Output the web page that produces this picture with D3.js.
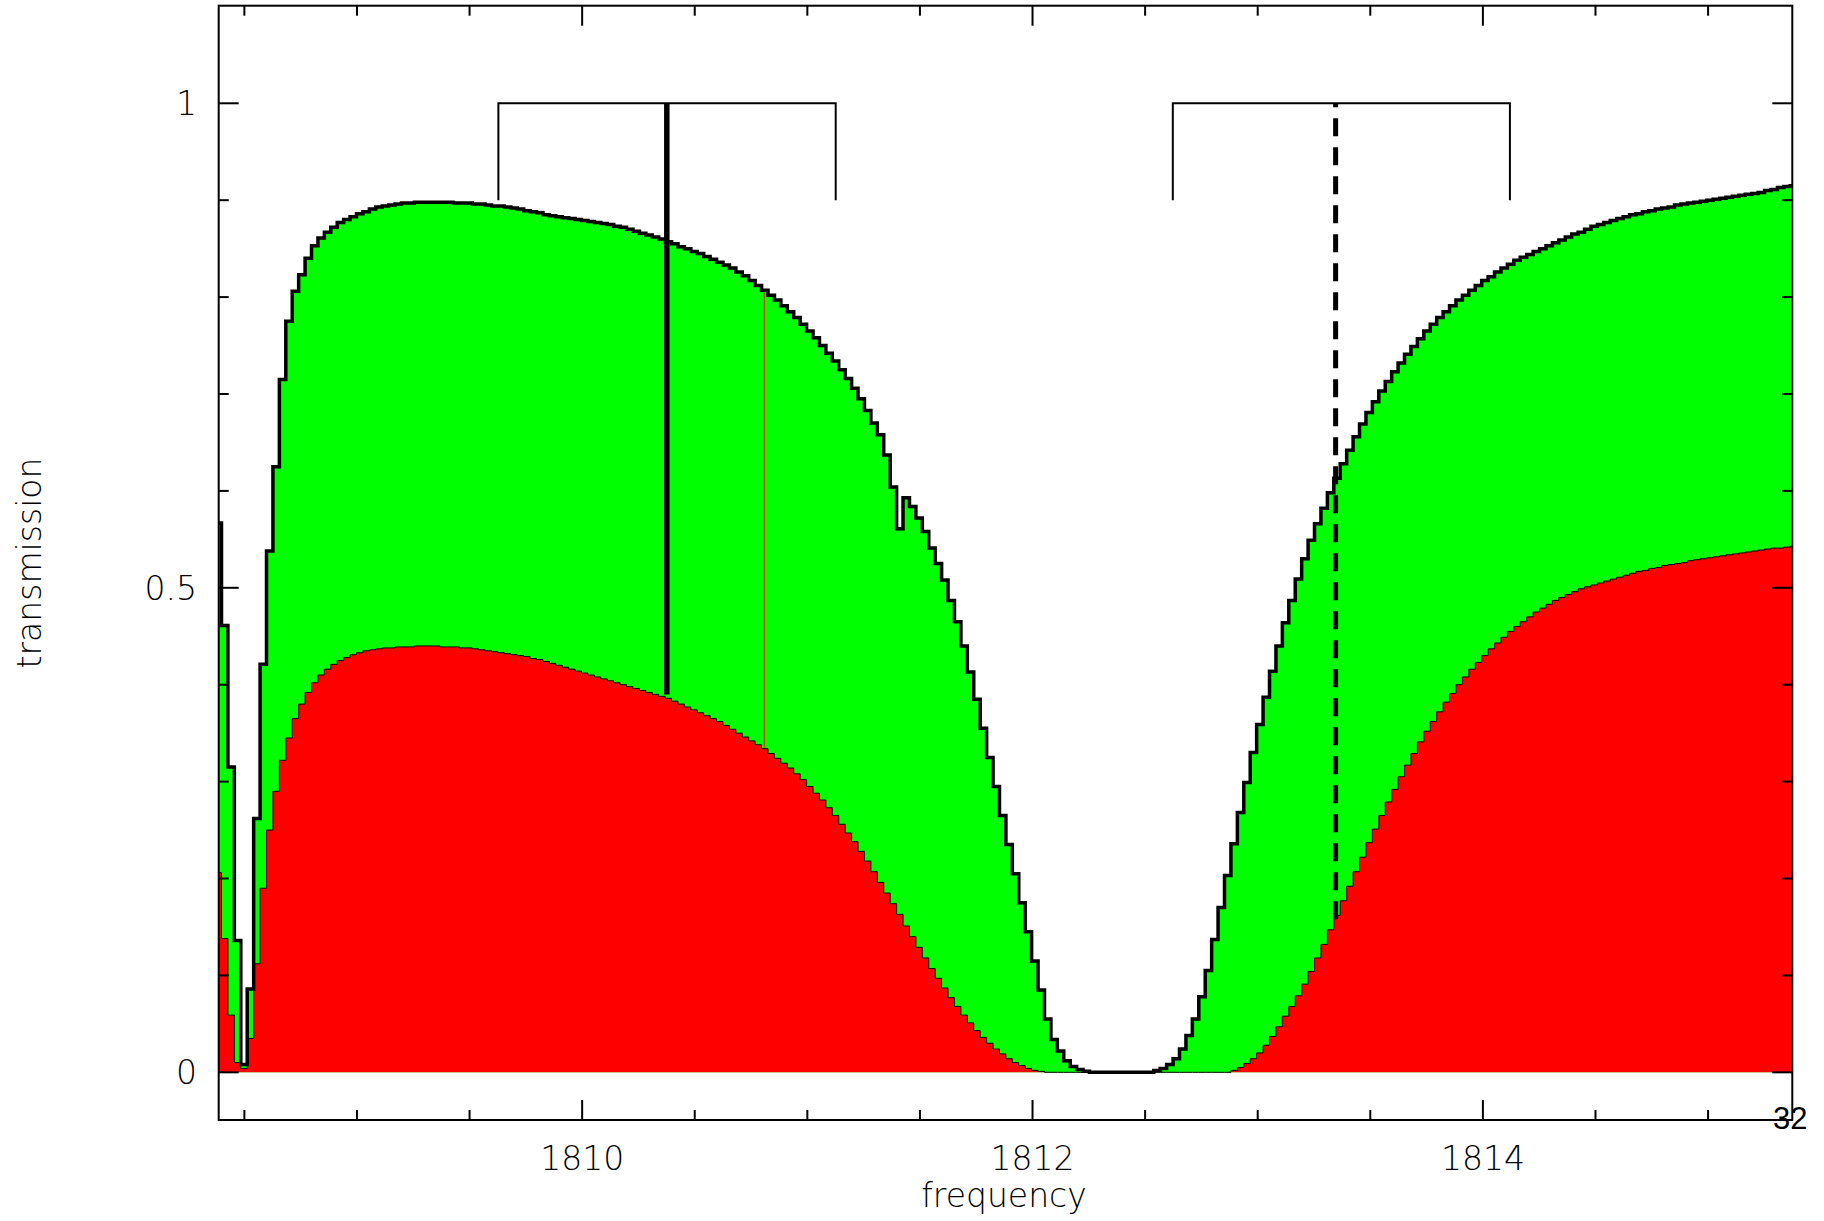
<!DOCTYPE html>
<html>
<head>
<meta charset="utf-8">
<script src="https://d3js.org/d3.v7.min.js"></script>
<style>
  body { margin: 0; background: #fff; }
  text { font-family: "DejaVu Sans", sans-serif; font-weight: 200; fill: #000; }
</style>
</head>
<body>
<svg class="chart" width="1824" height="1221"></svg>
<script>

// channel grid (left edge of first channel, channel width)
const startFreq = 1808.3699;
const chanWidth = 0.028552;

// total transmission per channel (green, outlined)
const greenVals = [
  0.567, 0.461, 0.315, 0.136, 0.008, 0.086, 0.262, 0.421, 0.538, 0.625,
  0.715, 0.775, 0.806, 0.823, 0.840, 0.853, 0.861, 0.867, 0.872, 0.877,
  0.880, 0.883, 0.886, 0.888, 0.891, 0.893, 0.894, 0.895, 0.896, 0.897,
  0.897, 0.898, 0.898, 0.898, 0.898, 0.898, 0.898, 0.897, 0.897, 0.897,
  0.896, 0.896, 0.895, 0.894, 0.894, 0.893, 0.892, 0.891, 0.889, 0.888,
  0.887, 0.885, 0.884, 0.883, 0.882, 0.881, 0.880, 0.879, 0.878, 0.877,
  0.876, 0.875, 0.873, 0.872, 0.870, 0.868, 0.866, 0.864, 0.862, 0.860,
  0.857, 0.855, 0.852, 0.850, 0.847, 0.845, 0.842, 0.839, 0.836, 0.833,
  0.830, 0.826, 0.822, 0.817, 0.812, 0.807, 0.802, 0.797, 0.791, 0.785,
  0.779, 0.772, 0.765, 0.758, 0.750, 0.742, 0.734, 0.725, 0.716, 0.706,
  0.695, 0.683, 0.670, 0.658, 0.637, 0.604, 0.561, 0.593, 0.584, 0.572,
  0.558, 0.541, 0.525, 0.508, 0.487, 0.465, 0.440, 0.413, 0.385, 0.355,
  0.325, 0.295, 0.265, 0.235, 0.205, 0.175, 0.145, 0.115, 0.085, 0.055,
  0.034, 0.022, 0.012, 0.006, 0.003, 0.001, 0, 0, 0, 0,
  0, 0, 0, 0, 0, 0, 0.002, 0.004, 0.008, 0.014,
  0.024, 0.038, 0.055, 0.078, 0.105, 0.137, 0.170, 0.203, 0.236, 0.268,
  0.299, 0.330, 0.359, 0.387, 0.414, 0.440, 0.464, 0.487, 0.509, 0.530,
  0.549, 0.566, 0.582, 0.598, 0.613, 0.628, 0.642, 0.656, 0.669, 0.681,
  0.692, 0.703, 0.713, 0.723, 0.732, 0.741, 0.749, 0.757, 0.765, 0.772,
  0.779, 0.785, 0.791, 0.797, 0.802, 0.807, 0.812, 0.817, 0.821, 0.826,
  0.830, 0.834, 0.838, 0.841, 0.844, 0.847, 0.850, 0.853, 0.856, 0.859,
  0.862, 0.865, 0.867, 0.870, 0.873, 0.875, 0.877, 0.879, 0.881, 0.883,
  0.885, 0.886, 0.888, 0.889, 0.891, 0.892, 0.893, 0.895, 0.896, 0.897,
  0.898, 0.899, 0.900, 0.901, 0.902, 0.903, 0.904, 0.905, 0.906, 0.907,
  0.908, 0.910, 0.911, 0.913, 0.914, 0.915
];

// lower component per channel (red)
const redVals = [
  0.206, 0.138, 0.059, 0.010, 0.004, 0.035, 0.112, 0.190, 0.250, 0.290,
  0.322, 0.345, 0.365, 0.380, 0.392, 0.402, 0.410, 0.416, 0.421, 0.425,
  0.428, 0.431, 0.433, 0.435, 0.436, 0.437, 0.438, 0.438, 0.439, 0.439,
  0.439, 0.440, 0.440, 0.440, 0.440, 0.439, 0.439, 0.439, 0.438, 0.438,
  0.437, 0.436, 0.435, 0.434, 0.433, 0.432, 0.431, 0.430, 0.429, 0.427,
  0.426, 0.424, 0.422, 0.420, 0.418, 0.416, 0.414, 0.412, 0.410, 0.408,
  0.406, 0.404, 0.402, 0.400, 0.398, 0.396, 0.394, 0.392, 0.390, 0.388,
  0.386, 0.383, 0.380, 0.377, 0.374, 0.371, 0.368, 0.365, 0.362, 0.358,
  0.354, 0.350, 0.346, 0.342, 0.338, 0.334, 0.329, 0.324, 0.319, 0.314,
  0.308, 0.302, 0.295, 0.288, 0.281, 0.273, 0.265, 0.256, 0.247, 0.238,
  0.228, 0.218, 0.207, 0.196, 0.185, 0.174, 0.163, 0.151, 0.140, 0.129,
  0.118, 0.107, 0.097, 0.087, 0.077, 0.068, 0.059, 0.051, 0.043, 0.036,
  0.030, 0.024, 0.019, 0.014, 0.010, 0.007, 0.004, 0.002, 0.001, 0,
  0, 0, 0, 0, 0, 0, 0, 0, 0, 0,
  0, 0, 0, 0, 0, 0, 0, 0, 0, 0,
  0, 0, 0, 0, 0, 0, 0, 0, 0.002, 0.005,
  0.009, 0.014, 0.020, 0.028, 0.037, 0.047, 0.058, 0.068, 0.079, 0.091,
  0.104, 0.118, 0.132, 0.147, 0.162, 0.177, 0.192, 0.207, 0.222, 0.237,
  0.251, 0.265, 0.279, 0.292, 0.305, 0.317, 0.329, 0.341, 0.352, 0.362,
  0.372, 0.382, 0.391, 0.400, 0.408, 0.416, 0.423, 0.430, 0.437, 0.443,
  0.449, 0.455, 0.460, 0.465, 0.470, 0.475, 0.479, 0.483, 0.487, 0.490,
  0.493, 0.496, 0.499, 0.501, 0.503, 0.505, 0.507, 0.509, 0.511, 0.513,
  0.515, 0.517, 0.518, 0.520, 0.521, 0.523, 0.524, 0.525, 0.526, 0.528,
  0.529, 0.530, 0.531, 0.532, 0.533, 0.534, 0.535, 0.536, 0.537, 0.538,
  0.539, 0.540, 0.541, 0.541, 0.542, 0.543
];

// marker lines: frequency, bottom value, style
const markerFreq = [1810.376, 1813.346];
const markerLow = [0.390, 0.158];
const markerDash = [false, true];
// thin red line inside the green
const thinFreq = 1810.809;
const thinRange = [0.335, 0.805];
// brackets (start, end) at the top
const bracketStart = [1809.628, 1812.623];
const bracketEnd = [1811.126, 1814.120];
const bracketRange = [0.9, 1.0];

const xTickMajor = [1810, 1812, 1814];
const yTickMajor = [0, 0.5, 1];

const svg = d3.select('.chart');
const pLeft = 218.7, pRight = 1792.3, pTop = 5.7, pBottom = 1120;

let x = d3.scaleLinear()
    .domain([1808.386, 1815.374])
    .range([pLeft, pRight]);

let y = d3.scaleLinear()
    .domain([-0.0492, 1.1007])
    .range([pBottom, pTop]);

svg.append('clipPath').attr('id', 'plot')
  .append('rect')
    .attr('x', pLeft).attr('y', pTop)
    .attr('width', pRight - pLeft).attr('height', pBottom - pTop);

// step data: one point per channel left edge plus a final closing edge
function steps(vals) {
  let pts = vals.map((v, i) => ({f: startFreq + i * chanWidth, v: v}));
  pts.push({f: startFreq + vals.length * chanWidth, v: vals[vals.length - 1]});
  return pts;
}

const area = d3.area()
    .curve(d3.curveStepAfter)
    .x(d => x(d.f))
    .y0(y(0))
    .y1(d => y(d.v));

const line = d3.line()
    .curve(d3.curveStepAfter)
    .x(d => x(d.f))
    .y(d => y(d.v));

const g = svg.append('g').attr('clip-path', 'url(#plot)');

g.append('path').datum(steps(greenVals))
    .attr('d', area).attr('fill', '#00ff00');

g.append('path').datum(steps(redVals))
    .attr('d', area).attr('fill', '#ff0000');

g.append('path').datum(steps(redVals))
    .attr('d', line).attr('fill', 'none')
    .attr('stroke', '#000').attr('stroke-width', 1);

g.append('line')
    .attr('x1', x(thinFreq)).attr('x2', x(thinFreq))
    .attr('y1', y(thinRange[0])).attr('y2', y(thinRange[1]))
    .attr('stroke', '#e02000').attr('stroke-width', 1);

g.append('path').datum(steps(greenVals))
    .attr('d', line).attr('fill', 'none')
    .attr('stroke', '#000').attr('stroke-width', 3.5);

// brackets
bracketStart.forEach((s, i) => {
  const e = bracketEnd[i];
  g.append('path')
    .attr('d', d3.line()([[x(s), y(bracketRange[0])], [x(s), y(bracketRange[1])],
                          [x(e), y(bracketRange[1])], [x(e), y(bracketRange[0])]]))
    .attr('fill', 'none').attr('stroke', '#000').attr('stroke-width', 2);
});

// marker lines
markerFreq.forEach((f, i) => {
  g.append('line')
    .attr('x1', x(f)).attr('x2', x(f))
    .attr('y1', y(1)).attr('y2', y(markerLow[i]))
    .attr('stroke', '#000')
    .attr('stroke-width', markerDash[i] ? 5 : 5.5)
    .attr('stroke-dasharray', markerDash[i] ? '18 11' : null)
    .attr('stroke-dashoffset', markerDash[i] ? 14 : null);
});

// frame
svg.append('rect')
    .attr('x', pLeft).attr('y', pTop)
    .attr('width', pRight - pLeft).attr('height', pBottom - pTop)
    .attr('fill', 'none').attr('stroke', '#000').attr('stroke-width', 2);

// ticks, drawn inward on all four sides
const xTicks = d3.range(1808.5, 1815.3, 0.5);
const yTicks = d3.range(0, 1.05, 0.1);
const isMajorX = t => xTickMajor.some(m => Math.abs(m - t) < 1e-6);
const isMajorY = t => yTickMajor.some(m => Math.abs(m - t) < 1e-6);

const ticks = svg.append('g').attr('stroke', '#000').attr('stroke-width', 2);
xTicks.forEach(t => {
  const len = isMajorX(t) ? 20 : 10;
  ticks.append('line').attr('x1', x(t)).attr('x2', x(t)).attr('y1', pBottom).attr('y2', pBottom - len);
  ticks.append('line').attr('x1', x(t)).attr('x2', x(t)).attr('y1', pTop).attr('y2', pTop + len);
});
yTicks.forEach(t => {
  const len = isMajorY(t) ? 20 : 10;
  ticks.append('line').attr('x1', pLeft).attr('x2', pLeft + len).attr('y1', y(t)).attr('y2', y(t));
  ticks.append('line').attr('x1', pRight).attr('x2', pRight - len).attr('y1', y(t)).attr('y2', y(t));
});

// tick labels
svg.selectAll('.xl').data(xTickMajor).enter().append('text')
    .attr('x', d => x(d)).attr('y', 1170)
    .attr('text-anchor', 'middle').attr('font-size', 33)
    .text(d => d);

svg.selectAll('.yl').data(yTickMajor).enter().append('text')
    .attr('x', 197).attr('y', d => y(d) + 12)
    .attr('text-anchor', 'end').attr('font-size', 33)
    .text(d => d);

svg.append('text')
    .attr('x', 1004).attr('y', 1207)
    .attr('text-anchor', 'middle').attr('font-size', 33)
    .text('frequency');

svg.append('text')
    .attr('transform', 'translate(41,563) rotate(-90)')
    .attr('text-anchor', 'middle').attr('font-size', 33)
    .text('transmission');

svg.append('text')
    .attr('x', 1773).attr('y', 1129)
    .attr('font-size', 31)
    .style('font-family', '"Liberation Sans", Arial, sans-serif')
    .style('font-weight', 400)
    .style('fill', '#000')
    .text('32');

</script>
</body>
</html>
